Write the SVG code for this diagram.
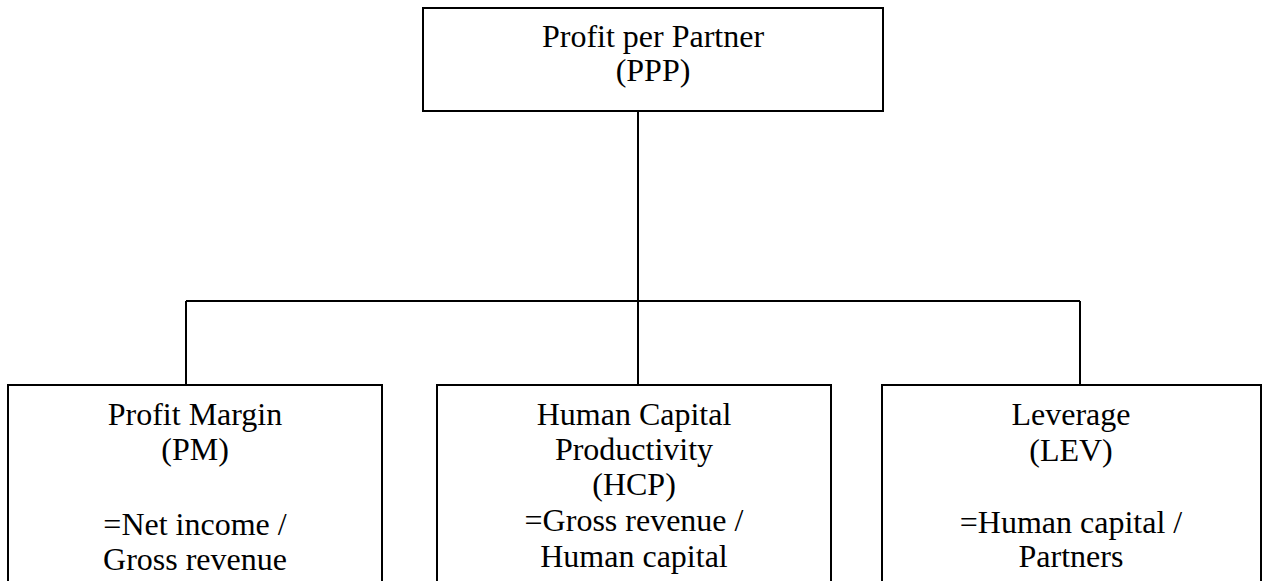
<svg xmlns="http://www.w3.org/2000/svg" width="1267" height="581" viewBox="0 0 1267 581">
  <style>
    .box { fill: #ffffff; stroke: #000000; stroke-width: 2; }
    .wire { fill: none; stroke: #000000; stroke-width: 2; }
    text { font-family: "Liberation Serif", "Times New Roman", serif; font-size: 32px; fill: #000000; text-anchor: middle; }
  </style>
  <rect width="1267" height="581" fill="#ffffff"/>

  <!-- tree connectors -->
  <g id="connectors">
    <path class="wire" d="M638 111 V301"/>
    <path class="wire" d="M186 301 H1080"/>
    <path class="wire" d="M186 301 V385"/>
    <path class="wire" d="M638 301 V385"/>
    <path class="wire" d="M1080 301 V385"/>
  </g>

  <g id="ppp">
    <rect class="box" x="423" y="8" width="460" height="103"/>
    <text x="653" y="47">Profit per Partner</text>
    <text x="653" y="81">(PPP)</text>
  </g>

  <g id="pm">
    <rect class="box" x="8" y="385" width="374" height="220"/>
    <text x="195" y="425">Profit Margin</text>
    <text x="195" y="460">(PM)</text>
    <text x="195" y="535">=Net income /</text>
    <text x="195" y="570">Gross revenue</text>
  </g>

  <g id="hcp">
    <rect class="box" x="437" y="385" width="394" height="220"/>
    <text x="634" y="425">Human Capital</text>
    <text x="634" y="460">Productivity</text>
    <text x="634" y="495">(HCP)</text>
    <text x="634" y="531">=Gross revenue /</text>
    <text x="634" y="567">Human capital</text>
  </g>

  <g id="lev">
    <rect class="box" x="882" y="385" width="379" height="220"/>
    <text x="1071" y="425">Leverage</text>
    <text x="1071" y="461">(LEV)</text>
    <text x="1071" y="533">=Human capital /</text>
    <text x="1071" y="567">Partners</text>
  </g>
</svg>
